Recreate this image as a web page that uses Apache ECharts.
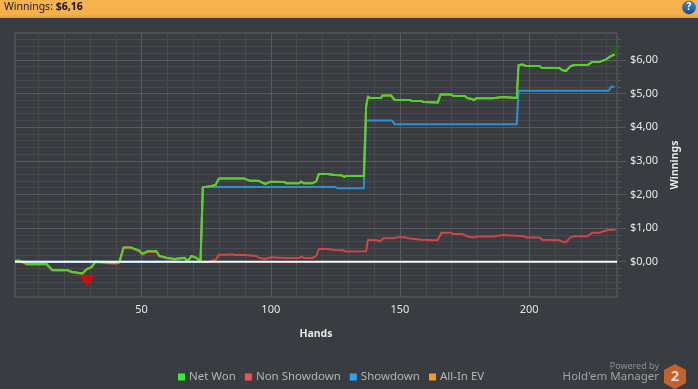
<!DOCTYPE html>
<html><head><meta charset="utf-8">
<style>html,body{margin:0;padding:0;background:#393c40;overflow:hidden}#c{width:698px;height:389px}</style>
<script src="https://cdn.jsdelivr.net/npm/echarts@6/dist/echarts.min.js"></script>
</head><body><div id="c"></div>
<script>
const FONT = '"Noto Sans", sans-serif';
const xMajor = [50, 100, 150, 200];
const xMinor = [10, 20, 30, 40, 60, 70, 80, 90, 110, 120, 130, 140, 160, 170, 180, 190, 210, 220, 230];
const yMajor = [0, 1, 2, 3, 4, 5, 6];
const yMinor = [-0.8, -0.6, -0.4, -0.2, 0.2, 0.4, 0.6, 0.8, 1.2, 1.4, 1.6, 1.8, 2.2, 2.4, 2.6, 2.8, 3.2, 3.4, 3.6, 3.8, 4.2, 4.4, 4.6, 4.8, 5.2, 5.4, 5.6, 5.8, 6.2, 6.4, 6.6];
const earlyRun = [[1,0.03],[2.7,0.03],[5.8,-0.07],[13.2,-0.07],[15.5,-0.25],[21.3,-0.25],[22.9,-0.3],[27.1,-0.35],[28.7,-0.22],[30.6,-0.16],[32.2,0],[39.5,-0.04],[41.4,-0.02],[43,0.42],[46,0.42],[49.1,0.33],[50.3,0.23],[52.3,0.31],[55.8,0.31],[56.9,0.17],[59.6,0.12],[62.7,0.08],[63.4,0.12],[66.6,0.12],[67.8,0.02],[69.3,0.17],[71.2,0.12],[72.8,0]];
const netWonLate = [[73.7,2.21],[76.3,2.24],[78.6,2.28],[79.9,2.47],[89.8,2.47],[91.8,2.41],[95,2.41],[97.9,2.31],[99.9,2.38],[105.3,2.37],[106.1,2.33],[111,2.33],[111.8,2.38],[112.8,2.33],[116,2.33],[117.6,2.39],[118.6,2.61],[122,2.61],[124.7,2.58],[127.2,2.57],[128.5,2.52],[129.3,2.55],[136,2.55],[136.9,4.62],[137.6,4.91],[138.4,4.87],[142.7,4.87],[143.2,4.94],[146.6,4.94],[147.9,4.81],[153.6,4.81],[154.5,4.78],[158.2,4.78],[159,4.75],[164.6,4.73],[165.7,4.97],[169.8,4.97],[170.7,4.93],[175,4.93],[176.2,4.86],[177.8,4.84],[178.6,4.8],[179.5,4.86],[185.9,4.86],[186.6,4.9],[189.8,4.9],[190.5,4.87],[195.2,4.87],[195.9,5.85],[197.5,5.86],[198.8,5.82],[204,5.82],[205,5.76],[211.7,5.76],[212.7,5.7],[214.3,5.67],[215.9,5.81],[217.5,5.85],[222.7,5.85],[224.4,5.94],[227.2,5.94],[227.9,5.91],[229.6,6.01],[231.6,6.11],[233.1,6.16]];
const netWon = earlyRun.concat(netWonLate);
const allInEV = netWon;
const nonShowdownLate = [[73,0],[75.5,-0.02],[77.5,0.04],[78.6,0.05],[79.9,0.21],[84,0.21],[85,0.22],[86,0.2],[89.8,0.2],[90.5,0.17],[94.3,0.17],[95.6,0.11],[97.9,0.08],[99.9,0.13],[105.3,0.11],[111,0.11],[111.8,0.15],[113,0.11],[116,0.11],[117.6,0.17],[118.6,0.38],[122,0.38],[124.7,0.35],[128,0.34],[129,0.3],[136.9,0.31],[137.6,0.65],[141.3,0.64],[142.2,0.6],[143.6,0.7],[147.9,0.7],[149,0.73],[151.7,0.73],[153,0.7],[158.2,0.65],[164.6,0.64],[166,0.86],[169.8,0.86],[170.7,0.82],[174.2,0.82],[176.2,0.75],[178.6,0.72],[179.5,0.75],[186,0.75],[186.6,0.79],[189.8,0.79],[190.5,0.76],[198,0.76],[198.8,0.72],[204,0.72],[205,0.65],[211.7,0.64],[213,0.59],[214.3,0.58],[215.9,0.72],[217.5,0.76],[222.7,0.76],[224.4,0.86],[227.2,0.86],[227.9,0.82],[230.4,0.94],[233.5,0.95]];
const nonShowdown = earlyRun.slice(0, -1).map(p => [p[0], p[1] - 0.02]).concat(nonShowdownLate);
const showdown = [[1,0],[72.8,0],[73.7,2.22],[125,2.22],[125.8,2.18],[136,2.18],[136.9,4.2],[147,4.2],[147.9,4.09],[195.2,4.09],[195.9,5.08],[230.8,5.08],[231.7,5.2],[233,5.2]];
const zeroLine = [[1,0],[234,0]];
const lowMark = [[28.9,-0.58]];
const highMark = [[232.7,6.36]];
const legendNames = ['Net Won','Non Showdown','Showdown','All-In EV'];

const majorLine = '#585b5e', minorLine = '#47494c';
const tickLine = '#55585b';
const lineSeries = (name, data, color, legendColor, z) => ({
  name, type:'line', data, xAxisIndex:0, yAxisIndex:0, showSymbol:false, symbol:'none', z,
  lineStyle:{color, width:2, join:'round'}, itemStyle:{color:legendColor}, animation:false
});
const chart = echarts.init(document.getElementById('c'), null, {renderer:'canvas'});
chart.setOption({
  animation:false,
  backgroundColor:'#393c40',
  textStyle:{fontFamily:FONT},
  grid:{left:15, right:81, top:33, bottom:92, show:true, borderColor:'#5f6265', borderWidth:1, backgroundColor:'transparent'},
  xAxis:[
    {type:'value', min:1, max:234, position:'bottom',
     axisLine:{show:false},
     axisTick:{show:true, length:4, customValues:xMajor, lineStyle:{color:tickLine}},
     axisLabel:{show:true, customValues:xMajor, color:'#e6e6e6', fontSize:11, margin:7, fontFamily:FONT},
     splitLine:{show:true, lineStyle:{color:majorLine, width:1}},
     name:'Hands', nameLocation:'middle', nameGap:32,
     nameTextStyle:{color:'#e8e8e8', fontWeight:'bold', fontSize:10.5, fontFamily:FONT}, z:2},
    {type:'value', min:1, max:234, position:'bottom',
     axisLine:{show:false},
     axisTick:{show:true, length:4, customValues:xMinor, lineStyle:{color:tickLine}},
     axisLabel:{show:false},
     splitLine:{show:true, lineStyle:{color:minorLine, width:1}}, z:1}
  ],
  yAxis:[
    {type:'value', min:-1.05, max:6.8, position:'right',
     axisLine:{show:false},
     axisTick:{show:true, length:9, customValues:yMajor, lineStyle:{color:tickLine}},
     axisLabel:{show:true, customValues:yMajor, color:'#e6e6e6', fontSize:11, margin:13, fontFamily:FONT,
       formatter:v => '$' + v.toFixed(2).replace('.', ',')},
     splitLine:{show:true, lineStyle:{color:majorLine, width:1}},
     name:'Winnings', nameLocation:'middle', nameGap:47, nameRotate:90,
     nameTextStyle:{color:'#e8e8e8', fontWeight:'bold', fontSize:10.5, fontFamily:FONT}, z:2},
    {type:'value', min:-1.05, max:6.8, position:'right',
     axisLine:{show:false},
     axisTick:{show:true, length:4, customValues:yMinor, lineStyle:{color:tickLine}},
     axisLabel:{show:false},
     splitLine:{show:true, lineStyle:{color:minorLine, width:1}}, z:1}
  ],
  legend:{data:legendNames, left:173, top:366, icon:'rect', itemWidth:7, itemHeight:7, itemGap:9,
    textStyle:{color:'#b4b4b4', fontSize:11.5, fontFamily:FONT, padding:[0,0,0,-1]}, selectedMode:false},
  series:[
    lineSeries('Showdown', showdown, '#2f8fd0', '#38a0e8', 3),
    lineSeries('All-In EV', allInEV, '#c89a30', '#f59a30', 4),
    lineSeries('Non Showdown', nonShowdown, '#cf4646', '#f55050', 5),
    lineSeries('Net Won', netWon, '#4fd42c', '#33f033', 6),
    {name:'Zero', type:'line', data:zeroLine, symbol:'none', z:7, lineStyle:{color:'#ffffff', width:2}, silent:true},
    {name:'Low', type:'scatter', data:lowMark, symbol:'triangle', symbolRotate:180, symbolSize:[15,12], z:8,
      itemStyle:{color:'#f40000'}, silent:true},
    {name:'High', type:'scatter', data:highMark, symbol:'path://M10 0 L10 10 L0 10 Z', symbolSize:[6,10], z:8,
      itemStyle:{color:'#0a6e0a'}, silent:true}
  ],
  graphic:[
    {type:'rect', z:100, shape:{x:0,y:0,width:698,height:18},
     style:{fill:new echarts.graphic.LinearGradient(0,0,0,1,[{offset:0,color:'#f7b34d'},{offset:0.8,color:'#f5b04b'},{offset:1,color:'#d99c44'}])}},
    {type:'text', z:101, left:4, top:2,
     style:{text:'Winnings: {b|$6,16}', fill:'#1c1c1c', font:'10.5px '+FONT,
       rich:{b:{fill:'#111', fontWeight:'bold', fontSize:10.5, fontFamily:FONT}}}},
    {type:'circle', z:101, shape:{cx:689,cy:7.5,r:6.5},
     style:{fill:new echarts.graphic.LinearGradient(0,0,0,1,[{offset:0,color:'#3f8fd8'},{offset:1,color:'#124a8c'}]), stroke:'#0f4a86', lineWidth:0.5}},
    {type:'text', z:102, x:689, y:7.5,
     style:{text:'?', fill:'#fff', font:'bold 10px '+FONT, align:'center', verticalAlign:'middle'}},
    {type:'text', z:101, x:659, y:366,
     style:{text:'Powered by', fill:'#8b8d90', font:'9px '+FONT, align:'right', verticalAlign:'middle'}},
    {type:'text', z:101, x:659, y:377,
     style:{text:"Hold'em Manager", fill:'#a0a2a5', font:'11.5px '+FONT, align:'right', verticalAlign:'middle'}},
    {type:'polygon', z:101, shape:{points:[[675,364],[686,370],[686,383],[675,389],[664,383],[664,370]]},
     style:{fill:'#c4622c'}},
    {type:'text', z:102, x:675, y:377,
     style:{text:'2', fill:'#d8d8d8', font:'bold 15px '+FONT, align:'center', verticalAlign:'middle'}}
  ]
});
</script></body></html>
